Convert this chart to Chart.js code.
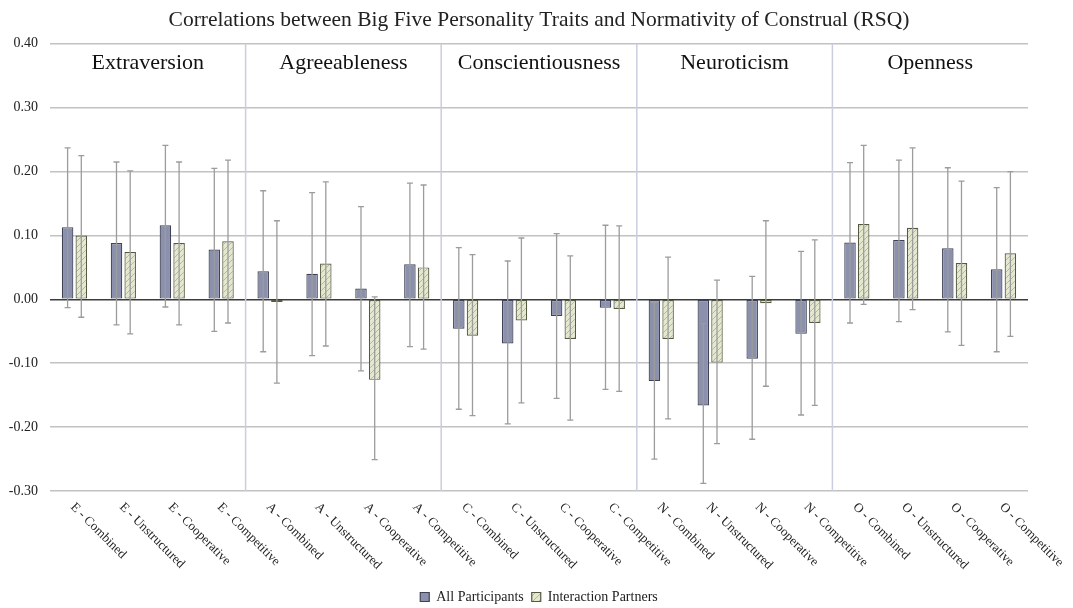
<!DOCTYPE html>
<html>
<head>
<meta charset="utf-8">
<script src="https://cdn.jsdelivr.net/npm/chart.js@4.4.0/dist/chart.umd.min.js"></script>
<style>
  html, body { margin: 0; padding: 0; background: #fff; }
  #wrap { width: 1073px; height: 608px; }
</style>
</head>
<body>
<div id="wrap"><canvas id="chart"></canvas></div>
<script>
const traits = ['Extraversion', 'Agreeableness', 'Conscientiousness', 'Neuroticism', 'Openness'];
const categories = [
  'E - Combined', 'E - Unstructured', 'E - Cooperative', 'E - Competitive',
  'A - Combined', 'A - Unstructured', 'A - Cooperative', 'A - Competitive',
  'C - Combined', 'C - Unstructured', 'C - Cooperative', 'C - Competitive',
  'N - Combined', 'N - Unstructured', 'N - Cooperative', 'N - Competitive',
  'O - Combined', 'O - Unstructured', 'O - Cooperative', 'O - Competitive'
];

// All Participants
const allValues = [0.113, 0.088, 0.116, 0.078, 0.044, 0.040, 0.017, 0.055, -0.046, -0.069, -0.026, -0.013,
  -0.128, -0.166, -0.093, -0.054, 0.089, 0.093, 0.080, 0.047];
const allLow = [-0.013, -0.040, -0.012, -0.050, -0.082, -0.088, -0.112, -0.074, -0.172, -0.195, -0.155, -0.141,
  -0.250, -0.288, -0.219, -0.181, -0.037, -0.035, -0.051, -0.082];
const allHigh = [0.237, 0.215, 0.241, 0.205, 0.170, 0.167, 0.145, 0.182, 0.081, 0.060, 0.103, 0.116,
  -0.005, -0.038, 0.036, 0.075, 0.214, 0.218, 0.206, 0.175];

// Interaction Partners
const partnerValues = [0.100, 0.074, 0.088, 0.091, -0.004, 0.056, -0.126, 0.050, -0.057, -0.033, -0.062, -0.015,
  -0.062, -0.099, -0.006, -0.037, 0.118, 0.112, 0.057, 0.072];
const partnerLow = [-0.028, -0.054, -0.040, -0.037, -0.131, -0.073, -0.251, -0.078, -0.182, -0.162, -0.189, -0.144,
  -0.187, -0.226, -0.136, -0.166, -0.008, -0.016, -0.072, -0.058];
const partnerHigh = [0.225, 0.201, 0.215, 0.218, 0.123, 0.184, 0.004, 0.179, 0.070, 0.096, 0.068, 0.115,
  0.066, 0.030, 0.123, 0.093, 0.241, 0.237, 0.185, 0.200];

const yMin = -0.3, yMax = 0.4, yStep = 0.1;

const serif = '"Liberation Serif", "Times New Roman", serif';

// hatch fill for the partner bars
function makeHatch(ctx) {
  const c = document.createElement('canvas');
  c.width = 6; c.height = 6;
  const p = c.getContext('2d');
  p.fillStyle = '#e4e8cf';
  p.fillRect(0, 0, 6, 6);
  p.strokeStyle = '#b3ba98';
  p.lineWidth = 1;
  p.beginPath();
  p.moveTo(0, 6); p.lineTo(6, 0);
  p.moveTo(-1, 1); p.lineTo(1, -1);
  p.moveTo(5, 7); p.lineTo(7, 5);
  p.stroke();
  return ctx.createPattern(c, 'repeat');
}

const sections = {
  id: 'sections',
  beforeDatasetsDraw(chart) {
    const { ctx, chartArea, scales: { x } } = chart;
    const step = x.getPixelForValue(1) - x.getPixelForValue(0);
    ctx.save();
    ctx.strokeStyle = '#c9cee0';
    ctx.lineWidth = 1.5;
    for (let t = 1; t < traits.length; t++) {
      const px = x.getPixelForValue(t * 4) - step / 2;
      ctx.beginPath();
      ctx.moveTo(px, chartArea.top);
      ctx.lineTo(px, chartArea.bottom);
      ctx.stroke();
    }
    ctx.fillStyle = '#111';
    ctx.font = '22px ' + serif;
    ctx.textAlign = 'center';
    ctx.textBaseline = 'middle';
    traits.forEach((t, i) => {
      const cx = (x.getPixelForValue(i * 4) + x.getPixelForValue(i * 4 + 3)) / 2;
      ctx.fillText(t, cx, chartArea.top + 19);
    });
    ctx.restore();
  }
};

const errorBars = {
  id: 'errorBars',
  afterDatasetsDraw(chart) {
    const { ctx, scales: { y } } = chart;
    ctx.save();
    ctx.strokeStyle = '#9c9c9c';
    ctx.lineWidth = 1.3;
    [[allLow, allHigh], [partnerLow, partnerHigh]].forEach(([lo, hi], d) => {
      chart.getDatasetMeta(d).data.forEach((bar, i) => {
        const yl = y.getPixelForValue(lo[i]);
        const yh = y.getPixelForValue(hi[i]);
        ctx.beginPath();
        ctx.moveTo(bar.x, yl); ctx.lineTo(bar.x, yh);
        ctx.moveTo(bar.x - 3, yl); ctx.lineTo(bar.x + 3, yl);
        ctx.moveTo(bar.x - 3, yh); ctx.lineTo(bar.x + 3, yh);
        ctx.stroke();
      });
    });
    ctx.restore();
  }
};

// slanted category labels (top-left to bottom-right)
const slantLabels = {
  id: 'slantLabels',
  afterDraw(chart) {
    const { ctx, chartArea, scales: { x } } = chart;
    ctx.save();
    ctx.fillStyle = '#222';
    ctx.font = '13px ' + serif;
    ctx.textAlign = 'left';
    ctx.textBaseline = 'middle';
    categories.forEach((lab, i) => {
      ctx.save();
      ctx.translate(x.getPixelForValue(i) - 2, chartArea.bottom + 14);
      ctx.rotate(Math.PI / 4);
      ctx.fillText(lab, 0, 0);
      ctx.restore();
    });
    ctx.restore();
  }
};

const ctx = document.getElementById('chart').getContext('2d');

new Chart(ctx, {
  type: 'bar',
  data: {
    labels: categories,
    datasets: [{
      label: 'All Participants',
      data: allValues,
      backgroundColor: '#8b91ad',
      borderColor: '#3f4255',
      borderWidth: 1.2,
      borderSkipped: false
    }, {
      label: 'Interaction Partners',
      data: partnerValues,
      backgroundColor: makeHatch(ctx),
      borderColor: '#545942',
      borderWidth: 1.2,
      borderSkipped: false
    }]
  },
  options: {
    responsive: true,
    maintainAspectRatio: false,
    animation: false,
    layout: { padding: { top: 5, right: 45, bottom: -6, left: 0 } },
    datasets: { bar: { categoryPercentage: 0.56, barPercentage: 0.84 } },
    scales: {
      x: {
        grid: { display: false },
        border: { display: false },
        ticks: { display: false },
        afterFit(scale) { scale.height = 91; }
      },
      y: {
        min: yMin,
        max: yMax,
        afterFit(scale) { scale.width = 50; },
        border: { display: false },
        grid: {
          color: c => Math.abs(c.tick.value) < 1e-9 ? '#3c3c3c' : '#c2c2c2',
          lineWidth: 1.5,
          drawTicks: false
        },
        ticks: {
          stepSize: yStep,
          padding: 12,
          color: '#222',
          font: { family: serif, size: 14 },
          callback: v => v.toFixed(2)
        }
      }
    },
    plugins: {
      title: {
        display: true,
        fullSize: false,
        text: 'Correlations between Big Five Personality Traits and Normativity of Construal (RSQ)',
        color: '#222',
        font: { family: serif, size: 21.5, weight: 'normal' },
        padding: { top: 2, bottom: 11 }
      },
      legend: {
        position: 'bottom',
        fullSize: false,
        labels: {
          boxWidth: 9,
          boxHeight: 9,
          padding: 8,
          color: '#222',
          font: { family: serif, size: 14 }
        }
      },
      tooltip: { enabled: false }
    }
  },
  plugins: [sections, errorBars, slantLabels]
});
</script>
</body>
</html>
